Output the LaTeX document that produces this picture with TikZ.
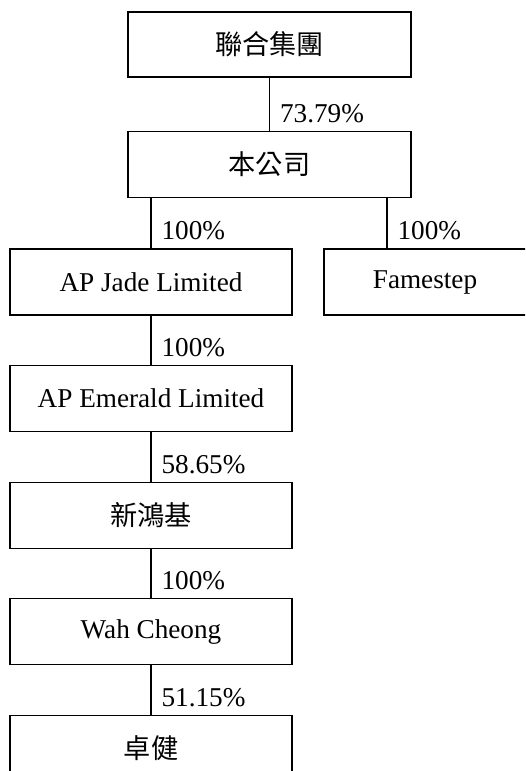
\documentclass[tikz,border=0pt]{standalone}
\usepackage{fontspec}
\setmainfont{Liberation Serif}
\newfontfamily\cjk{Noto Sans CJK TC}
\usetikzlibrary{positioning}
\newcommand{\chartfont}{\fontsize{27.2}{32}\selectfont}

\begin{document}
\begin{tikzpicture}[x=1pt,y=-1pt,line width=1.1pt,
node distance=49.5pt,
entity/.style={draw, rectangle, minimum width=282pt, minimum height=66pt, inner sep=0pt, font=\chartfont},
share/.style={draw=none, anchor=base west, inner sep=0pt, xshift=10pt, yshift=8.5pt, font=\chartfont}]
\useasboundingbox (0,0) rectangle (525,771);
\clip (0,0) rectangle (525,771);

\node[entity, minimum width=283pt, minimum height=65pt] (group) at (269.5,44.5) {\cjk 聯合集團};
\node[entity, minimum width=283pt, below=53pt of group] (company) {\cjk 本公司};
\node[entity] (jade) at (151,282) {AP Jade Limited};
\node[entity, minimum width=208pt] (fame) at (428,282) {\hspace*{-6pt}Famestep};
\node[entity, below=of jade] (emerald) {AP Emerald Limited};
\node[entity, below=of emerald] (shk) {\cjk 新鴻基};
\node[entity, below=of shk] (wah) {Wah Cheong};
\node[entity, below=of wah] (cheuk) {\cjk 卓健};
\coordinate (fametop) at ([xshift=-41pt]fame.north);

\draw (group.south) -- (company.north) node[share] (s1) {73.79\%};
\draw (jade.north |- company.south) -- (jade.north) node[share] (s2) {100\%};
\draw (fametop |- company.south) -- (fametop) node[share] (s3) {100\%};
\draw (jade.south) -- (emerald.north) node[share] (s4) {100\%};
\draw (emerald.south) -- (shk.north) node[share] (s5) {58.65\%};
\draw (shk.south) -- (wah.north) node[share] (s6) {100\%};
\draw (wah.south) -- (cheuk.north) node[share] (s7) {51.15\%};
%\draw[help lines] (0,0) grid (525,771);
\end{tikzpicture}
\end{document}
